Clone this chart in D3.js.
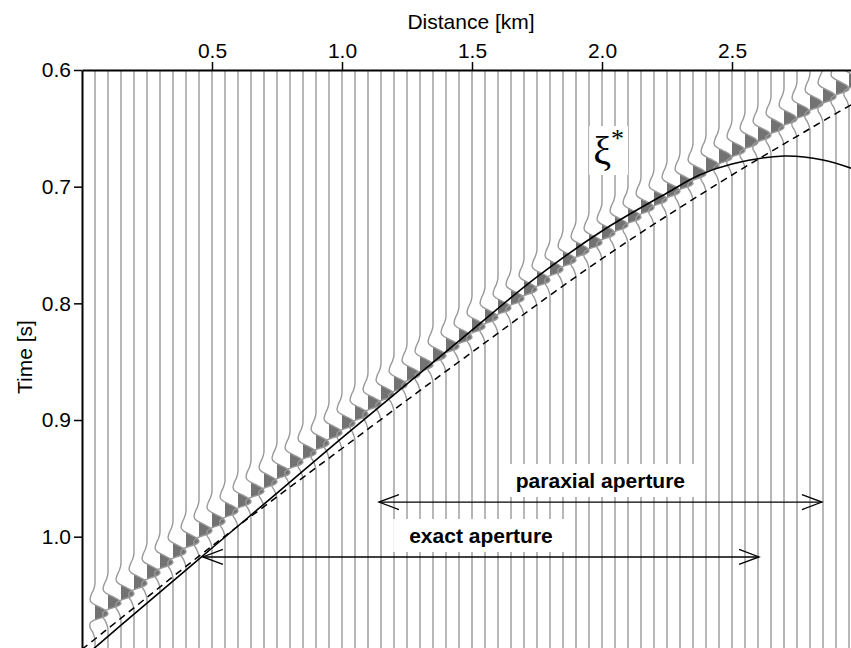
<!DOCTYPE html>
<html>
<head>
<meta charset="utf-8">
<script src="https://cdn.jsdelivr.net/npm/d3@7"></script>
<style>
  body { margin: 0; background: #fff; }
  svg { display: block; }
</style>
</head>
<body>
<div id="chart"></div>
<script>
// ------DATA------
// trace offsets [km]
const traceDist = [0.05, 0.10, 0.15, 0.20, 0.25, 0.30, 0.35, 0.40, 0.45, 0.50,
  0.55, 0.60, 0.65, 0.70, 0.75, 0.80, 0.85, 0.90, 0.95, 1.00,
  1.05, 1.10, 1.15, 1.20, 1.25, 1.30, 1.35, 1.40, 1.45, 1.50,
  1.55, 1.60, 1.65, 1.70, 1.75, 1.80, 1.85, 1.90, 1.95, 2.00,
  2.05, 2.10, 2.15, 2.20, 2.25, 2.30, 2.35, 2.40, 2.45, 2.50,
  2.55, 2.60, 2.65, 2.70, 2.75, 2.80, 2.85, 2.90, 2.95]
// time of the positive peak on each trace [s]
const tracePeak = [1.066, 1.057, 1.049, 1.040, 1.031, 1.022, 1.013, 1.004, 0.995, 0.987,
  0.978, 0.970, 0.961, 0.953, 0.945, 0.936, 0.928, 0.920, 0.911, 0.903,
  0.895, 0.886, 0.878, 0.870, 0.861, 0.853, 0.845, 0.837, 0.829, 0.820,
  0.812, 0.804, 0.796, 0.788, 0.780, 0.771, 0.763, 0.755, 0.748, 0.740,
  0.733, 0.726, 0.718, 0.711, 0.704, 0.697, 0.689, 0.682, 0.675, 0.669,
  0.662, 0.656, 0.649, 0.642, 0.636, 0.629, 0.623, 0.616, 0.610]
// wavelet samples: lag from the peak [ms] and normalised amplitude
const waveletLag = [-26, -21, -16, -12, -9, -6, -3, 0, 2, 4, 6, 9, 12, 15, 19, 23]
const waveletAmp = [0, -0.1, -0.3, -0.38, -0.2, 0.3, 0.8, 1.0, 0.85, 0.35, -0.15, -0.4, -0.38, -0.22, -0.07, 0]

// solid traveltime curve
const solidDist = [0.00, 0.25, 0.50, 0.75, 1.00, 1.25, 1.50, 1.75, 2.00, 2.25, 2.375, 2.50, 2.70, 2.85, 3.00]
const solidTime = [1.1046, 1.0569, 1.0097, 0.9626, 0.9154, 0.8691, 0.8229, 0.7774, 0.7380, 0.7054, 0.6900, 0.6806, 0.6737, 0.6771, 0.6874]
// dashed traveltime curve
const dashDist = [0.00, 0.05, 0.50, 1.00, 1.50, 2.00, 2.50, 3.00]
const dashTime = [1.0965, 1.0877, 1.0080, 0.9244, 0.8419, 0.7617, 0.6900, 0.6244]

const xTicks = [0.5, 1.0, 1.5, 2.0, 2.5]
const yTicks = [0.6, 0.7, 0.8, 0.9, 1.0]

// aperture arrows
const apertureLabels = ["paraxial aperture", "exact aperture"]
const apertureFrom = [1.142, 0.465]
const apertureTo = [2.846, 2.604]
const apertureTime = [0.9703, 1.0174]

// ------SETUP------
const width = 851, height = 648
const font = "'Liberation Sans', Arial, Helvetica, sans-serif"

const x = d3.scaleLinear().domain([0, 3]).range([82, 862])
const y = d3.scaleLinear().domain([0.6, 1.1]).range([70, 653.35])
const ampPx = 13

const svg = d3.select("#chart").append("svg")
  .attr("width", width).attr("height", height)
  .attr("viewBox", `0 0 ${width} ${height}`)

const defs = svg.append("defs")
defs.append("clipPath").attr("id", "plot-clip")
  .append("rect").attr("x", 82).attr("y", 70).attr("width", width - 82).attr("height", height - 70)

const plot = svg.append("g").attr("clip-path", "url(#plot-clip)")

// ------TRACES------
// monotone in y so the wiggle never loops back in time
const wiggle = d3.line()
  .curve(d3.curveMonotoneY)
  .x(p => p.base + p.a * ampPx)
  .y(p => y(p.t))

const fillArea = d3.area()
  .curve(d3.curveMonotoneY)
  .y(p => y(p.t))
  .x0(p => p.base)
  .x1(p => p.base + p.a * ampPx)

const traceG = plot.append("g")
traceDist.forEach((d, i) => {
  const base = x(d)
  const pts = [{ t: 0.55, a: 0, base }]
    .concat(waveletLag.map((l, j) => ({ t: tracePeak[i] + l / 1000, a: waveletAmp[j], base })))
    .concat([{ t: 1.15, a: 0, base }])

  // only keep the positive side of the wiggle for the fill
  defs.append("clipPath").attr("id", "pos" + i)
    .append("rect").attr("x", base).attr("y", 0).attr("width", 20).attr("height", height)

  traceG.append("path")
    .attr("d", fillArea(pts))
    .attr("clip-path", `url(#pos${i})`)
    .attr("fill", "#727272")
  traceG.append("path")
    .attr("d", wiggle(pts))
    .attr("fill", "none")
    .attr("stroke", "#999")
    .attr("stroke-width", 1.4)
})

// ------CURVES------
const curve = d3.line().curve(d3.curveCatmullRom.alpha(0.5))
  .x(p => x(p[0])).y(p => y(p[1]))

plot.append("path")
  .attr("d", curve(solidDist.map((d, i) => [d, solidTime[i]])))
  .attr("fill", "none").attr("stroke", "#000").attr("stroke-width", 1.6)

plot.append("path")
  .attr("d", curve(dashDist.map((d, i) => [d, dashTime[i]])))
  .attr("fill", "none").attr("stroke", "#000").attr("stroke-width", 1.5)
  .attr("stroke-dasharray", "7,5")

// ------LABELS WITH WHITE BOXES------
function boxedText(g, txt, px, py, attrs, padX, padY) {
  const box = g.append("rect").attr("fill", "#fff")
  const t = g.append("text").attr("x", px).attr("y", py).text(txt)
  Object.entries(attrs).forEach(([k, v]) => t.attr(k, v))
  const bb = t.node().getBBox()
  box.attr("x", bb.x - padX).attr("y", bb.y - padY)
    .attr("width", bb.width + 2 * padX).attr("height", bb.height + 2 * padY)
  return t
}

const annot = svg.append("g")
apertureLabels.forEach((lab, i) => {
  const x1 = x(apertureFrom[i]), x2 = x(apertureTo[i]), ay = y(apertureTime[i])
  boxedText(annot.append("g"), lab, (x1 + x2) / 2, ay - 14,
    { "text-anchor": "middle", "font-family": font, "font-weight": "bold", "font-size": 21 }, 16, 5)

  annot.append("line")
    .attr("x1", x1).attr("x2", x2).attr("y1", ay).attr("y2", ay)
    .attr("stroke", "#000").attr("stroke-width", 1.3)
  // open arrow heads at both ends
  ;[[x1, 1], [x2, -1]].forEach(([tx, dir]) => {
    annot.append("path")
      .attr("d", `M${tx + dir * 20},${ay - 7.5}L${tx},${ay}L${tx + dir * 20},${ay + 7.5}`)
      .attr("fill", "none").attr("stroke", "#000").attr("stroke-width", 1.3)
  })
})

// xi* label
const xiG = annot.append("g")
const xiBox = xiG.append("rect").attr("fill", "#fff")
const xi = xiG.append("text")
  .attr("x", x(1.966)).attr("y", y(0.6806))
  .attr("font-family", "'Liberation Serif', 'Times New Roman', serif")
  .attr("font-size", 40)
xi.append("tspan").text("ξ")
xi.append("tspan").attr("font-size", 26).attr("dy", -17).attr("dx", 0).text("*")
const xb = xi.node().getBBox()
xiBox.attr("x", xb.x - 4).attr("y", xb.y + 2).attr("width", xb.width + 8).attr("height", xb.height)

// ------AXES------
const xAxis = svg.append("g").attr("transform", "translate(0,70)")
  .call(d3.axisTop(x).tickValues(xTicks).tickFormat(d3.format(".1f")).tickSize(8).tickSizeOuter(0).tickPadding(4))
const yAxis = svg.append("g").attr("transform", "translate(82,0)")
  .call(d3.axisLeft(y).tickValues(yTicks).tickFormat(d3.format(".1f")).tickSize(8).tickSizeOuter(0).tickPadding(3))

;[xAxis, yAxis].forEach(a => {
  a.attr("font-family", font).attr("font-size", 21)
  a.select(".domain").attr("stroke-width", 2)
  a.selectAll(".tick line").attr("stroke-width", 1.5)
  a.selectAll(".tick text").attr("fill", "#000")
})

// axis titles
svg.append("text")
  .attr("x", 471).attr("y", 29)
  .attr("text-anchor", "middle")
  .attr("font-family", font).attr("font-size", 21)
  .text("Distance [km]")

svg.append("text")
  .attr("transform", "translate(32,357) rotate(-90)")
  .attr("text-anchor", "middle")
  .attr("font-family", font).attr("font-size", 21)
  .text("Time [s]")
</script>
</body>
</html>
